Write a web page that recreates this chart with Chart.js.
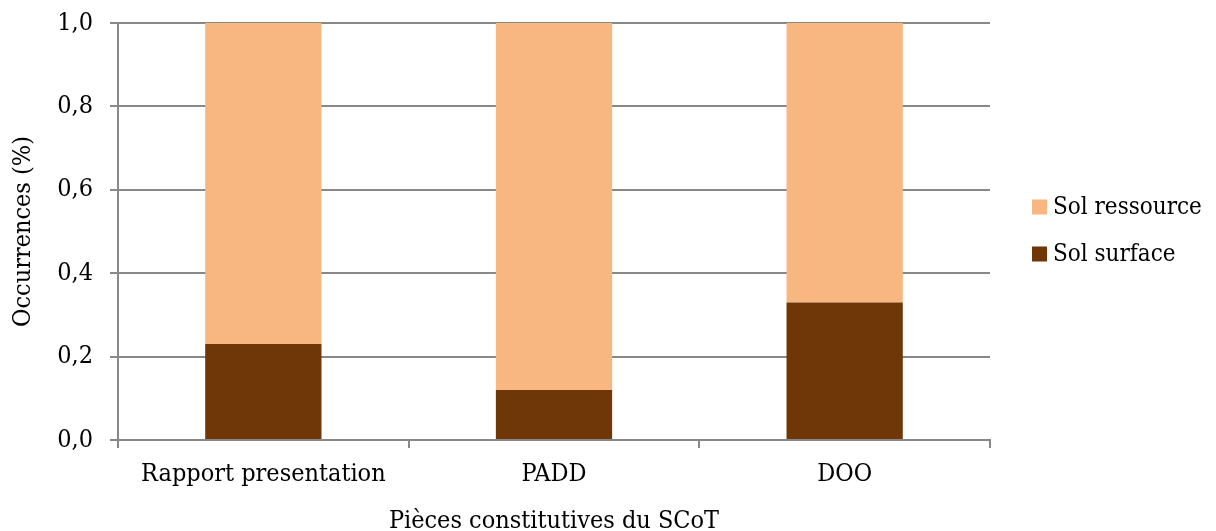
<!DOCTYPE html>
<html>
<head>
<meta charset="utf-8">
<script src="https://cdn.jsdelivr.net/npm/chart.js@4/dist/chart.umd.min.js"></script>
<style>
  html, body { margin: 0; padding: 0; background: #fff; }
  canvas { display: block; }
</style>
</head>
<body>
<canvas id="chart" width="1216" height="531"></canvas>
<script>
// Stacked share of soil notions per SCoT document
const categories = ["Rapport presentation", "PADD", "DOO"]
const solSurface = [0.23, 0.12, 0.33]
const solRessource = [0.77, 0.88, 0.67]
const yTicks = [0, 0.2, 0.4, 0.6, 0.8, 1.0]

const FONT = "'DejaVu Serif Condensed', 'DejaVu Serif', serif"
const FONT_SIZE = 25
const GRID = "#888888"
const COLOR_SURFACE = "#6f3607"
const COLOR_RESSOURCE = "#f8b681"

// legend on the right, listed top-down in reverse stacking order
const sideLegend = {
  id: "sideLegend",
  afterDraw(chart) {
    const { ctx, chartArea } = chart
    const items = chart.data.datasets.slice().reverse()
    const gap = 47
    const box = 15
    const x = chartArea.right + 42
    const yStart = (chartArea.top + chartArea.bottom) / 2 - ((items.length - 1) * gap) / 2 - 1
    ctx.save()
    ctx.font = "24px " + FONT
    ctx.textBaseline = "middle"
    items.forEach((ds, i) => {
      const y = yStart + i * gap
      ctx.fillStyle = ds.backgroundColor
      ctx.fillRect(x, y - box / 2, box, box)
      ctx.fillStyle = "#000"
      ctx.fillText(ds.label, x + 21, y + 1)
    })
    ctx.restore()
  }
}

new Chart(document.getElementById("chart"), {
  type: "bar",
  data: {
    labels: categories,
    datasets: [
      { label: "Sol surface", data: solSurface, backgroundColor: COLOR_SURFACE },
      { label: "Sol ressource", data: solRessource, backgroundColor: COLOR_RESSOURCE }
    ]
  },
  plugins: [sideLegend],
  options: {
    responsive: false,
    animation: false,
    layout: { padding: { top: 23, right: 226, left: 0, bottom: 0 } },
    datasets: {
      bar: { barPercentage: 0.4, categoryPercentage: 1, borderWidth: 0 }
    },
    plugins: {
      legend: { display: false },
      tooltip: { enabled: false }
    },
    scales: {
      x: {
        stacked: true,
        afterFit: scale => { scale.height = 91 },
        grid: { drawOnChartArea: false, offset: true, tickLength: 8, color: GRID, lineWidth: 2 },
        border: { color: GRID, width: 2 },
        ticks: { color: "#000", font: { family: FONT, size: FONT_SIZE }, padding: 11, maxRotation: 0 },
        title: {
          display: true,
          text: "Pièces constitutives du SCoT",
          color: "#000",
          font: { family: FONT, size: FONT_SIZE },
          padding: { top: 0, bottom: -5 }
        }
      },
      y: {
        stacked: true,
        min: 0,
        max: 1,
        afterFit: scale => {
          scale.width = 118
          scale.paddingTop = 0
          scale.paddingBottom = 0
        },
        afterBuildTicks: scale => { scale.ticks = yTicks.map(v => ({ value: v })) },
        grid: { color: GRID, lineWidth: 2, tickLength: 8 },
        border: { color: GRID, width: 2 },
        ticks: {
          color: "#000",
          font: { family: FONT, size: FONT_SIZE },
          padding: 17,
          callback: v => v.toFixed(1).replace(".", ",")
        },
        title: {
          display: true,
          text: "Occurrences (%)",
          color: "#000",
          font: { family: FONT, size: FONT_SIZE },
          padding: { top: 8, bottom: 0 }
        }
      }
    }
  }
})
</script>
</body>
</html>
